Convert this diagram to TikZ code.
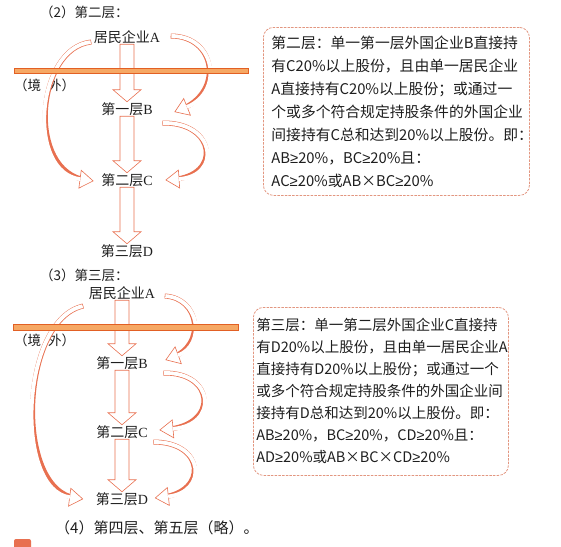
\documentclass[tikz,border=0pt]{standalone}
\usepackage{fontspec}
\newfontfamily\cjk{Noto Sans CJK SC}
\newfontfamily\lat{Liberation Serif}
\newfontfamily\sym{Liberation Sans}
\usetikzlibrary{calc,arrows.meta}
\definecolor{arrowc}{RGB}{232,112,80}
\definecolor{barfill}{RGB}{246,168,100}
\definecolor{barline}{RGB}{226,96,36}
\definecolor{boxline}{RGB}{226,150,128}
\definecolor{txt}{RGB}{30,30,30}
\newcommand\gee{{\sym ≥}}
\newcommand\blkarrow[2]{%
  \draw[blkst] let \p1=(#1.south), \p2=(#2.north) in
    (\x1-7pt,\y1) -- (\x1+7pt,\y1) -- (\x1+7pt,\y2+12pt) -- (\x1+14pt,\y2+12pt)
    -- (\x1,\y2) -- (\x1-14pt,\y2+12pt) -- (\x1-7pt,\y2+12pt) -- cycle;}
\tikzset{
  lbl/.style={inner sep=0.5pt, text=txt, font=\cjk\fontsize{14pt}{16pt}\selectfont},
  ttl/.style={inner sep=0pt, text=txt, anchor=west, font=\cjk\fontsize{13.5pt}{16pt}\selectfont},
  blkst/.style={draw=arrowc, line width=0.6pt, line join=miter},
  curv/.style={
    postaction={draw=arrowc, line width=5pt, shorten >=7pt},
    postaction={draw=arrowc, line width=0.6pt, -{Triangle[fill=white, length=14pt, width=19pt]}},
    postaction={draw=white, line width=3.8pt, shorten <=0.6pt, shorten >=13.5pt}},
  barst/.style={draw=barline, fill=barfill, line width=0.9pt},
  tbox/.style={draw=boxline, line width=0.8pt, dash pattern=on 2.5pt off 1.2pt,
    rounded corners=10pt, anchor=north west, align=left, text=txt},
}
\begin{document}
\begin{tikzpicture}[x=1pt,y=-1pt]
\useasboundingbox (0,0) rectangle (561,546);
\clip (0,0) rectangle (561,546);
% ---------- section (2)
\node[ttl] (t2) at (40,12) {（2）第二层：};
\node[lbl] (A1) at (127,37) {居民企业{\lat A}};
\node[lbl] (B1) at (127,109) {第一层{\lat B}};
\node[lbl] (C1) at (127,180) {第二层{\lat C}};
\node[lbl] (D1) at (127,251) {第三层{\lat D}};
\node[ttl] (w1) at (14,85) {（境\hspace{7pt}外）};
\blkarrow{A1}{B1}
\blkarrow{B1}{C1}
\blkarrow{C1}{D1}
\path[curv] ($(A1.east)+(10,-1)$) .. controls (216,36) and (224,92) .. ($(B1.east)+(21,3)$);
\path[curv] ($(A1.west)+(-2,5)$) .. controls (36,48) and (26,172) .. ($(C1.west)+(-7,1)$);
\path[curv] ($(B1.east)+(9,14)$) .. controls (216,122) and (222,176) .. ($(C1.east)+(12,0)$);
\draw[barst] (14,68) rectangle (248,73);
\node[tbox, inner xsep=8pt, text width=250pt, minimum height=168pt,
  font=\cjk\fontsize{14.8pt}{23pt}\selectfont] (T1) at (263,27) {%
第二层：单一第一层外国企业B直接持\\
有C20\%以上股份，且由单一居民企业\\
A直接持有C20\%以上股份；或通过一\\
个或多个符合规定持股条件的外国企业\\
间接持有C总和达到20\%以上股份。即：\\
AB\gee20\%，BC\gee20\%且：\\
AC\gee20\%或AB×BC\gee20\%};
% ---------- section (3)
\node[ttl] (t3) at (40,275) {（3）第三层：};
\node[lbl] (A2) at (122,293) {居民企业{\lat A}};
\node[lbl] (B2) at (122,363) {第一层{\lat B}};
\node[lbl] (C2) at (122,432) {第二层{\lat C}};
\node[lbl] (D2) at (122,499) {第三层{\lat D}};
\node[ttl] (w2) at (14,340) {（境\hspace{7pt}外）};
\blkarrow{A2}{B2}
\blkarrow{B2}{C2}
\blkarrow{C2}{D2}
\path[curv] ($(A2.east)+(9,3)$) .. controls (200,298) and (206,345) .. ($(B2.east)+(17,-3)$);
\path[curv] ($(B2.east)+(15,10)$) .. controls (215,372) and (219,425) .. ($(C2.east)+(11,-2)$);
\path[curv] ($(C2.east)+(5,10)$) .. controls (205,442) and (208,492) .. ($(D2.east)+(6,-1)$);
\path[curv] ($(A2.west)+(-5,13)$) .. controls (20,320) and (14,490) .. ($(D2.west)+(-12,0)$);
\draw[barst] (13,324) rectangle (238,330);
\node[tbox, inner xsep=3pt, text width=249pt, minimum height=168pt,
  font=\cjk\fontsize{14.5pt}{22pt}\selectfont] (T2) at (253,307) {%
第三层：单一第二层外国企业C直接持\\
有D20\%以上股份，且由单一居民企业A\\
直接持有D20\%以上股份；或通过一个\\
或多个符合规定持股条件的外国企业间\\
接持有D总和达到20\%以上股份。即：\\
AB\gee20\%，BC\gee20\%，CD\gee20\%且：\\
AD\gee20\%或AB×BC×CD\gee20\%};
% ---------- footer
\node[ttl, font=\cjk\fontsize{15pt}{18pt}\selectfont] (t4) at (55,528) {（4）第四层、第五层（略）。};
\fill[arrowc, rounded corners=2pt] (14,539) rectangle (31,556);
\end{tikzpicture}
\end{document}
